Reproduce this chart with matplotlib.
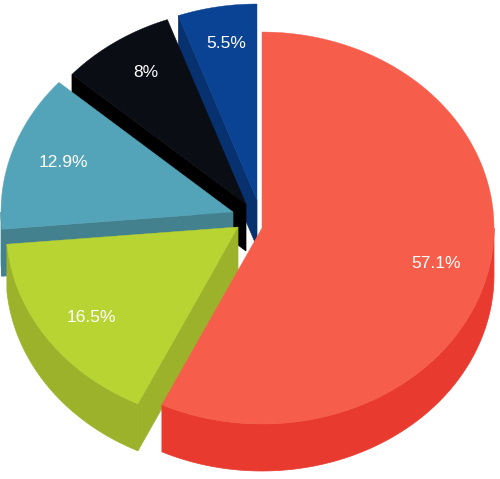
import numpy as np
import matplotlib
matplotlib.use("Agg")
import matplotlib.pyplot as plt
from matplotlib.patches import Polygon

# slice data (clockwise from 12 o'clock)
values = [57.1, 16.5, 12.9, 8.0, 5.5]
labels = ["57.1%", "16.5%", "12.9%", "8%", "5.5%"]
top_colors = ["#F65E4B", "#B8D432", "#54A4B9", "#0B0D15", "#0A4393"]
side_colors = ["#E83A2F", "#9DB22B", "#44818F", "#000000", "#083170"]

# pulled-out slices: screen offset in px
slice_shift = [(0, 0), (-24, -1), (-29, -16), (-16, -24), (-5, -28)]

# tilted pie (pixels)
cx, cy = 262, 228
rx, ry = 232, 196
dz = 47
lab_rx, lab_ry = 0.77, 0.81

fig = plt.figure(figsize=(5.0, 4.79), dpi=100)
ax = fig.add_axes([0, 0, 1, 1])
ax.set_xlim(0, 500)
ax.set_ylim(479, 0)
ax.axis("off")


def pt(t, r, lev, sh, kx=1.0, ky=1.0):
    return (cx + sh[0] + r * kx * rx * np.sin(t),
            cy + sh[1] - r * ky * ry * np.cos(t) + lev * dz)


total = sum(values)
bounds = np.cumsum([0] + values) / total * 2 * np.pi

walls = []
tops = []
for i in range(len(values)):
    t1, t2 = bounds[i], bounds[i + 1]
    sh = slice_shift[i]
    ts = np.linspace(t1, t2, max(int((t2 - t1) / 0.01), 4))
    tops.append(([pt(0, 0, 0, sh)] + [pt(t, 1, 0, sh) for t in ts], top_colors[i]))
    # outer wall, front half only
    a, b = max(t1, np.pi / 2), min(t2, 3 * np.pi / 2)
    if b > a:
        ws = np.linspace(a, b, max(int((b - a) / 0.01), 4))
        q = [pt(t, 1, 0, sh) for t in ws] + [pt(t, 1, 1, sh) for t in ws[::-1]]
        walls.append((q, side_colors[i]))
    # radial walls facing the viewer
    for t, show in [(t1, np.sin(t1) < -1e-6), (t2, np.sin(t2) > 1e-6)]:
        if show:
            q = [pt(0, 0, 0, sh), pt(t, 1, 0, sh), pt(t, 1, 1, sh), pt(0, 0, 1, sh)]
            walls.append((q, side_colors[i]))

walls.sort(key=lambda w: np.mean([p[1] for p in w[0]]))
for q, col in walls:
    ax.add_patch(Polygon(q, closed=True, facecolor=col, edgecolor=col, linewidth=0.5))
for poly, col in tops:
    ax.add_patch(Polygon(poly, closed=True, facecolor=col, edgecolor=col, linewidth=0.3))

for i in range(len(values)):
    mid = (bounds[i] + bounds[i + 1]) / 2
    x, y = pt(mid, 1, 0, slice_shift[i], lab_rx, lab_ry)
    ax.text(x, y, labels[i], color="white", fontsize=12.5, family="Liberation Sans",
            ha="center", va="center")

fig.savefig("out.png", dpi=100)
